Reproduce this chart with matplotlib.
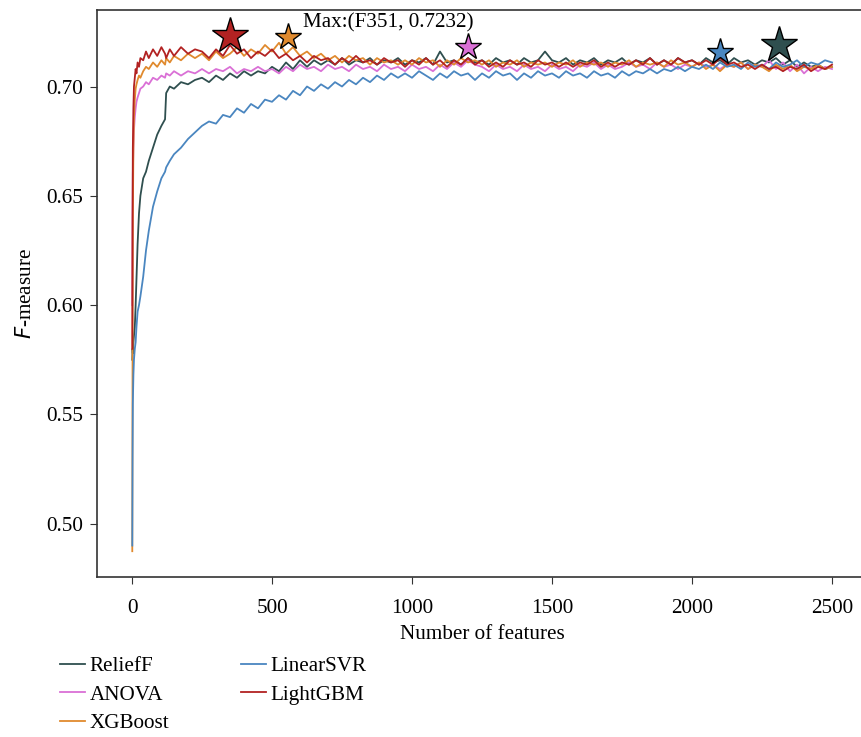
import matplotlib.pyplot as plt
import numpy as np

plt.rcParams['font.family'] = ['Liberation Serif', 'DejaVu Serif']
plt.rcParams['font.size'] = 15.2

x_early = [1, 2, 3, 5, 7, 10, 13, 16, 20, 25, 30, 40, 50, 60, 75, 90, 105, 118, 122, 135, 150, 175, 200, 225]
x_late = list(range(250, 2501, 25))
features = x_early + x_late

relieff = [0.575, 0.580, 0.578, 0.583, 0.586, 0.590, 0.600, 0.612, 0.628, 0.642, 0.650, 0.658, 0.661, 0.666, 0.672, 0.678, 0.682, 0.685, 0.697, 0.700, 0.699, 0.702, 0.701, 0.703,
           0.704, 0.702, 0.705, 0.703, 0.706, 0.704, 0.707, 0.705, 0.707, 0.706,
           0.709, 0.707, 0.711, 0.708, 0.712, 0.709, 0.712, 0.710, 0.712, 0.710,
           0.713, 0.710, 0.712, 0.711, 0.713, 0.710, 0.712, 0.711, 0.713, 0.710,
           0.712, 0.711, 0.713, 0.710, 0.716, 0.711, 0.712, 0.710, 0.713, 0.711,
           0.712, 0.710, 0.713, 0.711, 0.712, 0.710, 0.713, 0.711, 0.712, 0.716,
           0.712, 0.711, 0.713, 0.710, 0.712, 0.711, 0.713, 0.710, 0.712, 0.711,
           0.713, 0.710, 0.712, 0.711, 0.713, 0.710, 0.712, 0.710, 0.713, 0.711,
           0.712, 0.710, 0.713, 0.711, 0.712, 0.710, 0.713, 0.711, 0.712, 0.710,
           0.712, 0.711, 0.713, 0.710, 0.712, 0.709, 0.711, 0.709, 0.710, 0.708,
           0.709]

anova = [0.600, 0.640, 0.660, 0.672, 0.680, 0.686, 0.690, 0.693, 0.695, 0.697, 0.699, 0.700, 0.702, 0.701, 0.704, 0.703, 0.705, 0.704, 0.706, 0.705, 0.707, 0.705, 0.707, 0.706,
         0.708, 0.706, 0.708, 0.707, 0.709, 0.706, 0.708, 0.707, 0.709, 0.707,
         0.708, 0.706, 0.709, 0.707, 0.710, 0.708, 0.709, 0.707, 0.710, 0.708,
         0.709, 0.707, 0.710, 0.708, 0.709, 0.707, 0.710, 0.708, 0.709, 0.707,
         0.710, 0.708, 0.709, 0.707, 0.710, 0.708, 0.711, 0.709, 0.712, 0.710,
         0.709, 0.707, 0.710, 0.708, 0.709, 0.707, 0.710, 0.708, 0.709, 0.707,
         0.710, 0.708, 0.709, 0.707, 0.710, 0.709, 0.711, 0.708, 0.710, 0.708,
         0.709, 0.711, 0.709, 0.710, 0.708, 0.711, 0.709, 0.710, 0.708, 0.710,
         0.709, 0.711, 0.709, 0.710, 0.708, 0.710, 0.709, 0.711, 0.708, 0.710,
         0.709, 0.712, 0.708, 0.711, 0.707, 0.710, 0.706, 0.709, 0.707, 0.709,
         0.708]

xgboost = [0.4874, 0.575, 0.640, 0.672, 0.686, 0.694, 0.699, 0.701, 0.703, 0.705, 0.704, 0.707, 0.709, 0.708, 0.711, 0.709, 0.712, 0.710, 0.713, 0.711, 0.714, 0.712, 0.715, 0.713,
           0.715, 0.712, 0.716, 0.713, 0.715, 0.718, 0.714, 0.717, 0.715, 0.719,
           0.716, 0.720, 0.715, 0.718, 0.714, 0.716, 0.713, 0.715, 0.712, 0.714,
           0.711, 0.714, 0.712, 0.713, 0.710, 0.713, 0.711, 0.712, 0.710, 0.712,
           0.710, 0.713, 0.711, 0.712, 0.709, 0.712, 0.710, 0.713, 0.711, 0.712,
           0.710, 0.712, 0.709, 0.711, 0.710, 0.712, 0.709, 0.711, 0.710, 0.711,
           0.709, 0.711, 0.710, 0.712, 0.709, 0.711, 0.710, 0.711, 0.709, 0.711,
           0.710, 0.712, 0.709, 0.711, 0.710, 0.711, 0.709, 0.712, 0.710, 0.711,
           0.709, 0.711, 0.708, 0.710, 0.707, 0.710, 0.709, 0.711, 0.708, 0.710,
           0.709, 0.707, 0.710, 0.708, 0.710, 0.707, 0.709, 0.708, 0.710, 0.708,
           0.709]

linearsvr = [0.490, 0.530, 0.555, 0.568, 0.575, 0.580, 0.583, 0.590, 0.597, 0.600, 0.604, 0.613, 0.625, 0.634, 0.645, 0.652, 0.658, 0.661, 0.663, 0.666, 0.669, 0.672, 0.676, 0.679,
             0.682, 0.684, 0.683, 0.687, 0.686, 0.690, 0.688, 0.692, 0.690, 0.694,
             0.693, 0.696, 0.694, 0.698, 0.696, 0.700, 0.698, 0.701, 0.699, 0.702,
             0.700, 0.703, 0.701, 0.704, 0.702, 0.705, 0.703, 0.706, 0.704, 0.706,
             0.704, 0.707, 0.705, 0.703, 0.706, 0.704, 0.707, 0.705, 0.706, 0.703,
             0.706, 0.704, 0.707, 0.705, 0.706, 0.703, 0.706, 0.704, 0.707, 0.705,
             0.706, 0.704, 0.707, 0.705, 0.706, 0.704, 0.707, 0.705, 0.706, 0.704,
             0.707, 0.705, 0.707, 0.706, 0.708, 0.706, 0.708, 0.707, 0.709, 0.707,
             0.709, 0.708, 0.710, 0.708, 0.711, 0.709, 0.710, 0.708, 0.711, 0.709,
             0.710, 0.708, 0.711, 0.709, 0.710, 0.712, 0.709, 0.711, 0.710, 0.712,
             0.711]

lightgbm = [0.580, 0.640, 0.672, 0.690, 0.700, 0.704, 0.708, 0.706, 0.711, 0.709, 0.713, 0.712, 0.716, 0.713, 0.717, 0.714, 0.718, 0.715, 0.713, 0.717, 0.714, 0.718, 0.715, 0.717,
            0.716, 0.713, 0.717, 0.714, 0.719, 0.715, 0.717, 0.713, 0.716, 0.714,
            0.717, 0.713, 0.715, 0.712, 0.714, 0.711, 0.714, 0.712, 0.713, 0.710,
            0.713, 0.711, 0.714, 0.711, 0.712, 0.710, 0.713, 0.711, 0.712, 0.709,
            0.712, 0.710, 0.713, 0.710, 0.712, 0.709, 0.712, 0.710, 0.713, 0.710,
            0.712, 0.709, 0.711, 0.709, 0.712, 0.710, 0.711, 0.709, 0.712, 0.710,
            0.711, 0.709, 0.711, 0.709, 0.711, 0.710, 0.712, 0.709, 0.711, 0.709,
            0.711, 0.710, 0.712, 0.710, 0.713, 0.710, 0.712, 0.710, 0.713, 0.711,
            0.712, 0.710, 0.712, 0.710, 0.713, 0.710, 0.711, 0.709, 0.710, 0.708,
            0.710, 0.708, 0.709, 0.707, 0.709, 0.708, 0.710, 0.707, 0.709, 0.708,
            0.710]

names = ['ReliefF', 'ANOVA', 'XGBoost', 'LinearSVR', 'LightGBM']
series = [relieff, anova, xgboost, linearsvr, lightgbm]
colors = ['#2F4F4F', '#DA70D6', '#E08A2E', '#4A86C0', '#B22222']

# best point of each method (star markers)
best_x = [2310, 1200, 556, 2100, 351]
best_y = [0.7188, 0.7183, 0.7228, 0.7160, 0.7232]
star_size = [27, 20, 20, 20, 27]

fig = plt.figure(figsize=(8.61, 7.37), dpi=100)
ax = fig.add_axes([97 / 861, 160 / 737, 770 / 861, 567 / 737])

for name, vals, c in zip(names, series, colors):
    ax.plot(features, vals, color=c, lw=1.3, label=name)

for bx, by, c, s in zip(best_x, best_y, colors, star_size):
    ax.plot(bx, by, marker='*', ms=s, color=c, mec='black', mew=1.0, zorder=5)

ax.text(610, 0.7292, 'Max:(F351, 0.7232)', ha='left', va='center')

ax.set_xlim(-125, 2625)
ax.set_ylim(0.4756, 0.7350)
ax.set_xticks([0, 500, 1000, 1500, 2000, 2500])
ax.set_yticks([0.50, 0.55, 0.60, 0.65, 0.70])
ax.set_yticklabels(['0.50', '0.55', '0.60', '0.65', '0.70'])
for sp in ax.spines.values():
    sp.set_color('#333333')
    sp.set_linewidth(1.2)
ax.tick_params(direction='out', length=5, color='#333333')
ax.tick_params(axis='x', pad=11)
ax.tick_params(axis='y', pad=5)

ax.set_xlabel('Number of features', labelpad=5)
ax.set_ylabel('$\\it{F}$-measure', labelpad=7)

fig.legend(loc='upper left', bbox_to_anchor=(0.06, 0.121), ncol=2, frameon=False,
           handlelength=1.2, handletextpad=0.2, columnspacing=3.4, labelspacing=0.42,
           borderaxespad=0)

fig.savefig('out.png', dpi=100)
